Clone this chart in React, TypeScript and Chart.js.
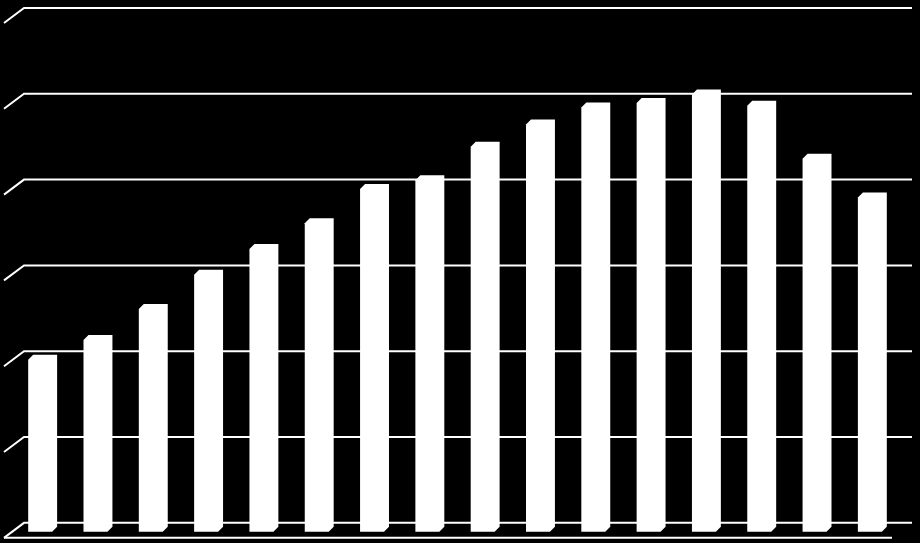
import { useEffect, useRef } from 'react';
import { Chart, registerables } from 'chart.js';

Chart.register(...registerables);

const categories = ['1', '2', '3', '4', '5', '6', '7', '8', '9', '10', '11', '12', '13', '14', '15', '16'];
const values = [1.96, 2.19, 2.55, 2.95, 3.25, 3.55, 3.95, 4.05, 4.44, 4.7, 4.9, 4.95, 5.05, 4.92, 4.3, 3.85];
const gridTicks = [0, 1, 2, 3, 4, 5, 6];
const barBase = -0.105;

const wallPlugin = {
  id: 'wall3d',
  beforeDatasetsDraw(chart: any) {
    const { ctx, chartArea, scales } = chart;
    const y = scales.y;
    const gl = chartArea.left + 9;
    const gr = chartArea.right + 12;
    const dx = 20;
    const dy = 15;
    ctx.save();
    ctx.strokeStyle = '#ffffff';
    ctx.lineWidth = 2;
    gridTicks.forEach((t) => {
      const py = y.getPixelForValue(t);
      ctx.beginPath();
      ctx.moveTo(gl - dx, py + dy);
      ctx.lineTo(gl, py);
      ctx.lineTo(gr, py);
      ctx.stroke();
    });
    const p0 = y.getPixelForValue(0);
    ctx.beginPath();
    ctx.moveTo(gl - dx, p0 + dy);
    ctx.lineTo(gr - dx, p0 + dy);
    ctx.stroke();
    ctx.restore();
  },
  afterDatasetsDraw(chart: any) {
    const { ctx } = chart;
    const meta = chart.getDatasetMeta(0);
    ctx.save();
    ctx.fillStyle = '#ffffff';
    meta.data.forEach((bar: any) => {
      const { x, y, base, width } = bar.getProps(['x', 'y', 'base', 'width'], true);
      const l = x - width / 2;
      const r = x + width / 2;
      const d = 5;
      ctx.beginPath();
      ctx.moveTo(l, y + d);
      ctx.lineTo(l + d, y);
      ctx.lineTo(r, y);
      ctx.lineTo(r, base - d);
      ctx.lineTo(r - d, base);
      ctx.lineTo(l, base);
      ctx.closePath();
      ctx.fill();
    });
    ctx.restore();
  },
};

export default function App() {
  const canvasRef = useRef<HTMLCanvasElement | null>(null);

  useEffect(() => {
    if (!canvasRef.current) return;
    const chart = new Chart(canvasRef.current, {
      type: 'bar',
      data: {
        labels: categories,
        datasets: [
          {
            data: values,
            base: barBase,
            backgroundColor: 'rgba(0,0,0,0)',
            borderWidth: 0,
            categoryPercentage: 1,
            barPercentage: 0.523,
          } as any,
        ],
      },
      options: {
        responsive: false,
        animation: false,
        events: [],
        layout: { padding: { left: 15, right: 20, top: 8, bottom: 3 } },
        plugins: {
          legend: { display: false },
          tooltip: { enabled: false },
          title: { display: false },
        },
        scales: {
          x: { display: false, offset: true },
          y: { display: false, min: -0.2, max: 6 },
        },
      },
      plugins: [wallPlugin],
    });
    return () => chart.destroy();
  }, []);

  return (
    <div style={{ position: 'fixed', left: 0, top: 0, width: 920, height: 543, background: '#000' }}>
      <canvas ref={canvasRef} width={920} height={543} style={{ display: 'block' }} />
    </div>
  );
}
